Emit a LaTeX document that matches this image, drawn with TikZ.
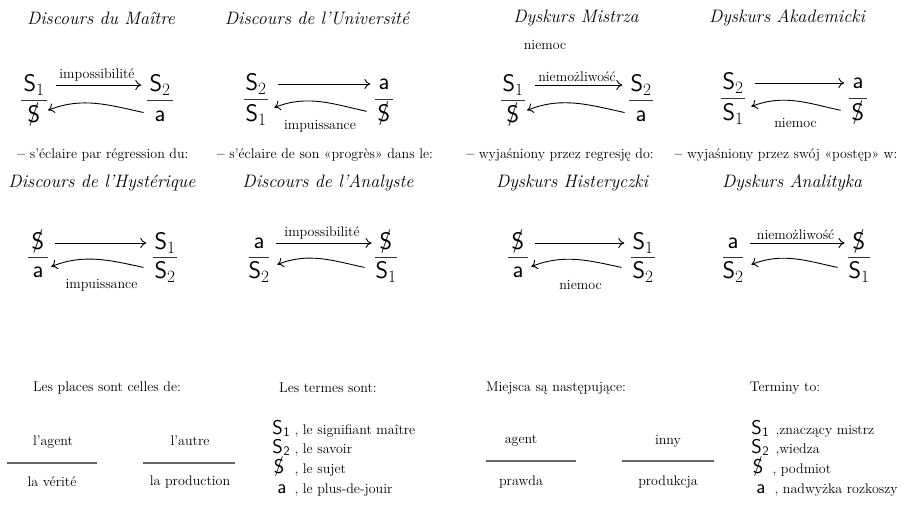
\documentclass[tikz,border=0pt]{standalone}
\usetikzlibrary{calc,arrows.meta}
\newcommand{\barS}{\ooalign{S\cr\hidewidth\raisebox{0.07em}{/}\hidewidth\cr}}
\newcommand{\termS}[1]{S\kern0.5pt\raisebox{-0.1em}{\fontsize{13}{14}\selectfont #1}}
\begin{document}
\begin{tikzpicture}[x=1pt,y=-1pt,
  discname/.style={font=\fontsize{18}{20}\selectfont\itshape},
  txt/.style={font=\fontsize{14}{16}\selectfont},
  symb/.style={font=\fontsize{24}{28}\selectfont\sffamily, inner sep=3pt},
  term/.style={font=\fontsize{20}{22}\selectfont\sffamily, inner sep=0pt},
  fracbar/.style={line width=1.2pt, black!80},
  arr/.style={-{To[length=6pt,width=10pt]}, line width=0.9pt, shorten <=8pt, shorten >=5pt},
  placebar/.style={line width=1.6pt, black!60}]
  \useasboundingbox (0,0) rectangle (919,505);

  \node[discname] (tM) at (101,18) {Discours du Maître};
  \node[symb] (M1-t) at (34,85) {S$_1$};
  \node[symb] (M1-b) at (34,116) {\barS};
  \node[symb] (M2-t) at (160,85) {S$_2$};
  \node[symb] (M2-b) at (160,116) {a};
  \draw[arr] (M1-t) -- node[txt,above] {impossibilité} (M2-t);
  \draw[arr] (M2-b) to[out=168,in=22] (M1-b);

  \node[discname] (tU) at (317,18) {Discours de l’Université};
  \node[symb] (U1-t) at (256,84) {S$_2$};
  \node[symb] (U1-b) at (256,115) {S$_1$};
  \node[symb] (U2-t) at (384,84) {a};
  \node[symb] (U2-b) at (384,115) {\barS};
  \draw[arr] (U1-t) -- (U2-t);
  \draw[arr] (U2-b) to[out=168,in=22] (U1-b);
  \node[txt] (U-l) at ($(U1-b)!.5!(U2-b)+(0,11)$) {impuissance};

  \node[discname] (tMp) at (576,18) {Dyskurs Mistrza};
  \node[txt] (n-m) at (545,45) {niemoc};
  \node[symb] (Mp1-t) at (513,85) {S$_1$};
  \node[symb] (Mp1-b) at (513,116) {\barS};
  \node[symb] (Mp2-t) at (641,85) {S$_2$};
  \node[symb] (Mp2-b) at (641,116) {a};
  \draw[arr] (Mp1-t) -- node[txt,above] {niemożliwość} (Mp2-t);
  \draw[arr] (Mp2-b) to[out=168,in=22] (Mp1-b);

  \node[discname] (tA) at (787,18) {Dyskurs Akademicki};
  \node[symb] (A1-t) at (733,83) {S$_2$};
  \node[symb] (A1-b) at (733,114) {S$_1$};
  \node[symb] (A2-t) at (858,83) {a};
  \node[symb] (A2-b) at (858,114) {\barS};
  \draw[arr] (A1-t) -- (A2-t);
  \draw[arr] (A2-b) to[out=168,in=22] (A1-b);
  \node[txt] (A-l) at ($(A1-b)!.5!(A2-b)+(0,9)$) {niemoc};

  \node[txt] (cH) at (103,155) {{\bfseries –} s'éclaire par régression du:};
  \node[txt] (cA) at (325,155) {{\bfseries –} s'éclaire de son «progrès» dans le:};
  \node[txt] (cHp) at (560,155) {{\bfseries –} wyjaśniony przez regresję do:};
  \node[txt] (cAp) at (786,155) {{\bfseries –} wyjaśniony przez swój «postęp» w:};

  \node[discname] (tH) at (102,183) {Discours de l’Hystérique};
  \node[symb] (H1-t) at (38,243) {\barS};
  \node[symb] (H1-b) at (38,272) {a};
  \node[symb] (H2-t) at (165,243) {S$_1$};
  \node[symb] (H2-b) at (165,272) {S$_2$};
  \draw[arr] (H1-t) -- (H2-t);
  \draw[arr] (H2-b) to[out=168,in=22] (H1-b);
  \node[txt] (H-l) at ($(H1-b)!.5!(H2-b)+(0,13)$) {impuissance};

  \node[discname] (tN) at (328,183) {Discours de l’Analyste};
  \node[symb] (N1-t) at (259,243) {a};
  \node[symb] (N1-b) at (259,272) {S$_2$};
  \node[symb] (N2-t) at (386,243) {\barS};
  \node[symb] (N2-b) at (386,272) {S$_1$};
  \draw[arr] (N1-t) -- node[txt,above] {impossibilité} (N2-t);
  \draw[arr] (N2-b) to[out=168,in=22] (N1-b);

  \node[discname] (tHp) at (572,183) {Dyskurs Histeryczki};
  \node[symb] (Hp1-t) at (518,243) {\barS};
  \node[symb] (Hp1-b) at (518,272) {a};
  \node[symb] (Hp2-t) at (643,243) {S$_1$};
  \node[symb] (Hp2-b) at (643,272) {S$_2$};
  \draw[arr] (Hp1-t) -- (Hp2-t);
  \draw[arr] (Hp2-b) to[out=168,in=22] (Hp1-b);
  \node[txt] (Hp-l) at ($(Hp1-b)!.5!(Hp2-b)+(0,13)$) {niemoc};

  \node[discname] (tNp) at (792,183) {Dyskurs Analityka};
  \node[symb] (Np1-t) at (733,243) {a};
  \node[symb] (Np1-b) at (733,272) {S$_2$};
  \node[symb] (Np2-t) at (859,243) {\barS};
  \node[symb] (Np2-b) at (859,272) {S$_1$};
  \draw[arr] (Np1-t) -- node[txt,above] {niemożliwość} (Np2-t);
  \draw[arr] (Np2-b) to[out=168,in=22] (Np1-b);

  \foreach \f/\w in {M1/13,M2/13,U1/12,U2/9,Mp1/12,Mp2/12,A1/12,A2/9,
                     H1/10,H2/12,N1/10,N2/11,Hp1/10,Hp2/12,Np1/10,Np2/11}
    \draw[fracbar] ($(\f-t)!.5!(\f-b)+(-\w,0)$) -- ++(2*\w,0);

  \node[txt] (hP) at (107,388) {Les places sont celles de:};
  \node[txt] (pA) at (53,442) {l'agent};
  \node[txt] (pO) at (190,441) {l'autre};
  \node[txt] (pV) at (52,482) {la vérité};
  \node[txt] (pP) at (190,482) {la production};
  \draw[placebar] (7,463) -- (97,463);
  \draw[placebar] (143,463) -- (235,463);

  \node[txt] (hT) at (328,388) {Les termes sont:};
  \node[term,anchor=base] (f1) at (281,434) {\termS{1}};
  \node[term,anchor=base] (f2) at (281,453) {\termS{2}};
  \node[term,anchor=base] (f3) at (279,473) {\barS};
  \node[term,anchor=base] (f4) at (282,493) {a};
  \node[txt,anchor=base west] at (291,434) {, le signifiant maître};
  \node[txt,anchor=base west] at (291,453) {, le savoir};
  \node[txt,anchor=base west] at (291,473) {, le sujet};
  \node[txt,anchor=base west] at (291,493) {, le plus-de-jouir};

  \node[txt] (hPp) at (556,388) {Miejsca są następujące:};
  \node[txt] (pAp) at (521,441) {agent};
  \node[txt] (pOp) at (668,441) {inny};
  \node[txt] (pVp) at (521,482) {prawda};
  \node[txt] (pPp) at (668,482) {produkcja};
  \draw[placebar] (486,461) -- (576,461);
  \draw[placebar] (622,461) -- (714,461);

  \node[txt] (hTp) at (785,388) {Terminy to:};
  \node[term,anchor=base] (p1) at (760,434) {\termS{1}};
  \node[term,anchor=base] (p2) at (760,453) {\termS{2}};
  \node[term,anchor=base] (p3) at (758,473) {\barS};
  \node[term,anchor=base] (p4) at (761,493) {a};
  \node[txt,anchor=base west] at (772,434) {,znaczący mistrz};
  \node[txt,anchor=base west] at (772,453) {,wiedza};
  \node[txt,anchor=base west] at (769,473) {, podmiot};
  \node[txt,anchor=base west] at (771,493) {, nadwyżka rozkoszy};
\end{tikzpicture}
\end{document}
